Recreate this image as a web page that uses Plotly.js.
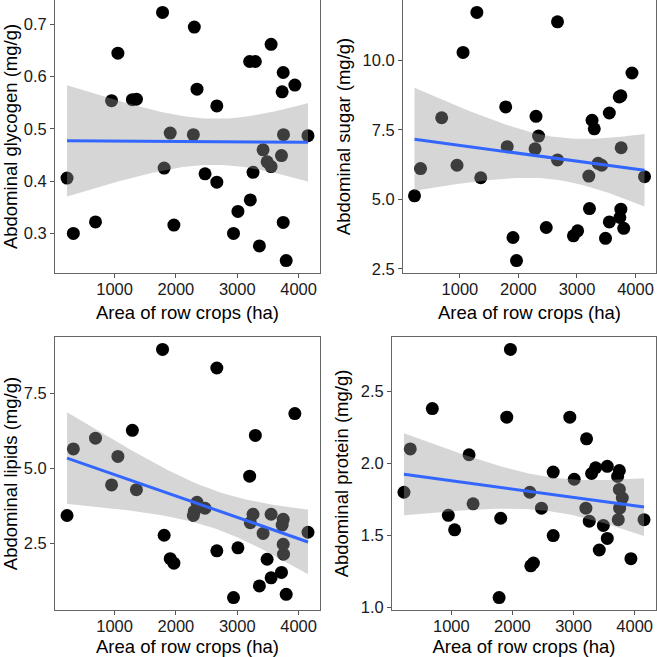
<!DOCTYPE html>
<html>
<head>
<meta charset="utf-8">
<script src="https://cdn.plot.ly/plotly-3.0.1.min.js"></script>
<style>
  html, body { margin: 0; padding: 0; background: #fff; }
  #chart { width: 657px; height: 657px; }
</style>
</head>
<body>
<div id="chart"></div>
<script>
// area of row crops per site (ha), shared by all four panels
const area = [225, 328, 689, 951, 1054, 1290, 1356, 1782, 1808, 1907, 1967, 2284, 2300, 2344, 2475, 2667, 2667, 2939, 3011, 3202, 3213, 3257, 3295, 3361, 3421, 3487, 3552, 3552, 3721, 3732, 3749, 3749, 3754, 3798, 3939, 4153];

const glycogen = [0.406, 0.300, 0.322, 0.554, 0.645, 0.556, 0.557, 0.723, 0.425, 0.492, 0.316, 0.489, 0.695, 0.576, 0.414, 0.544, 0.398, 0.300, 0.342, 0.629, 0.364, 0.417, 0.629, 0.276, 0.460, 0.437, 0.662, 0.428, 0.449, 0.571, 0.608, 0.321, 0.489, 0.248, 0.584, 0.487];
const sugar = [5.13, 6.11, 7.94, 6.23, 10.29, 11.73, 5.78, 8.33, 6.90, 3.63, 2.80, 6.82, 7.99, 7.28, 3.99, 11.39, 6.42, 3.69, 3.87, 5.84, 4.67, 7.85, 7.54, 6.30, 6.23, 3.60, 8.11, 4.19, 8.69, 4.35, 8.73, 4.65, 6.86, 3.96, 9.55, 5.82];
const lipids = [3.42, 5.64, 6.00, 4.44, 5.39, 6.26, 4.28, 8.96, 2.76, 1.98, 1.83, 3.42, 3.56, 3.86, 3.66, 8.34, 2.24, 0.68, 2.34, 4.73, 3.18, 3.46, 6.09, 1.07, 2.82, 1.96, 3.46, 1.34, 1.52, 3.10, 3.29, 2.46, 2.13, 0.79, 6.82, 2.86];
const protein = [1.80, 2.10, 2.38, 1.64, 1.54, 2.06, 1.72, 1.07, 1.62, 2.32, 2.79, 1.80, 1.29, 1.31, 1.69, 1.94, 1.50, 2.32, 1.89, 1.69, 2.17, 1.60, 1.93, 1.97, 1.40, 1.57, 1.98, 1.48, 1.91, 1.61, 1.95, 1.82, 1.69, 1.76, 1.34, 1.61];

const xTicks = [1000, 2000, 3000, 4000];
const yTitles = ['Abdominal glycogen (mg/g)', 'Abdominal sugar (mg/g)', 'Abdominal lipids (mg/g)', 'Abdominal protein (mg/g)'];
const yTickVals = [[0.3, 0.4, 0.5, 0.6, 0.7], [2.5, 5.0, 7.5, 10.0], [2.5, 5.0, 7.5], [1.0, 1.5, 2.0, 2.5]];
const yTickText = [['0.3', '0.4', '0.5', '0.6', '0.7'], ['2.5', '5.0', '7.5', '10.0'], ['2.5', '5.0', '7.5'], ['1.0', '1.5', '2.0', '2.5']];
const xTitle = 'Area of row crops (ha)';

// linear fit with 95% band, like geom_smooth(method = "lm")
function lmBand(x, y, n) {
    const N = x.length;
    const mx = x.reduce((a, b) => a + b, 0) / N;
    const my = y.reduce((a, b) => a + b, 0) / N;
    let sxx = 0, sxy = 0;
    for (let i = 0; i < N; i++) {
        sxx += (x[i] - mx) ** 2;
        sxy += (x[i] - mx) * (y[i] - my);
    }
    const b = sxy / sxx;
    const a = my - b * mx;
    let sse = 0;
    for (let i = 0; i < N; i++) sse += (y[i] - a - b * x[i]) ** 2;
    const s = Math.sqrt(sse / (N - 2));
    const t = 2.0322; // qt(0.975, 34)
    const xmin = Math.min(...x), xmax = Math.max(...x);
    const xs = [], fit = [], lo = [], hi = [];
    for (let k = 0; k < n; k++) {
        const xv = xmin + (xmax - xmin) * k / (n - 1);
        const f = a + b * xv;
        const se = s * Math.sqrt(1 / N + (xv - mx) ** 2 / sxx);
        xs.push(xv); fit.push(f); lo.push(f - t * se); hi.push(f + t * se);
    }
    return { xs, fit, lo, hi };
}

function expand(vals) {
    const lo = Math.min(...vals), hi = Math.max(...vals);
    const pad = (hi - lo) * 0.05;
    return [lo - pad, hi + pad];
}

const series = [glycogen, sugar, lipids, protein];
const xDomains = [[0.0837, 0.4871], [0.6134, 0.9985], [0.0837, 0.4871], [0.5966, 0.9985]];
const yDomains = [[0.5845, 1.0], [0.5845, 1.0], [0.0715, 0.4871], [0.0715, 0.4871]];

const data = [];
const layout = {
    width: 657, height: 657,
    margin: { l: 0, r: 0, t: 0, b: 0 },
    paper_bgcolor: '#fff', plot_bgcolor: '#fff',
    showlegend: false,
    font: { family: 'Liberation Sans, Arial, sans-serif', color: '#1a1a1a' }
};

series.forEach((y, i) => {
    const n = i === 0 ? '' : String(i + 1);
    const xa = 'x' + n, ya = 'y' + n;
    const band = lmBand(area, y, 80);

    data.push({
        x: area, y: y, xaxis: xa, yaxis: ya,
        type: 'scatter', mode: 'markers',
        marker: { color: '#000', size: 13 },
        hoverinfo: 'skip'
    });
    data.push({
        x: band.xs.concat(band.xs.slice().reverse()),
        y: band.hi.concat(band.lo.slice().reverse()),
        xaxis: xa, yaxis: ya,
        type: 'scatter', mode: 'lines', fill: 'toself',
        fillcolor: 'rgba(153,153,153,0.4)', line: { width: 0 },
        hoverinfo: 'skip'
    });
    data.push({
        x: band.xs, y: band.fit, xaxis: xa, yaxis: ya,
        type: 'scatter', mode: 'lines',
        line: { color: '#3366FF', width: 3 },
        hoverinfo: 'skip'
    });

    const axisCommon = {
        showline: true, mirror: true, linecolor: '#666', linewidth: 1,
        showgrid: false, zeroline: false,
        ticks: 'outside', ticklen: 4, tickwidth: 1, tickcolor: '#555',
        tickfont: { size: 16.5, color: '#1a1a1a' }
    };
    layout['xaxis' + n] = Object.assign({}, axisCommon, {
        domain: xDomains[i], anchor: ya,
        range: expand(area),
        tickvals: xTicks,
        ticklabelstandoff: -3,
        title: { text: xTitle, font: { size: 18.5, color: '#000' }, standoff: 9 }
    });
    layout['yaxis' + n] = Object.assign({}, axisCommon, {
        domain: yDomains[i], anchor: xa,
        range: expand(y.concat(band.lo, band.hi)),
        tickvals: yTickVals[i], ticktext: yTickText[i],
        title: { text: yTitles[i], font: { size: 18.5, color: '#000' }, standoff: 7 }
    });
});

Plotly.newPlot('chart', data, layout, { displayModeBar: false, staticPlot: true });
</script>
</body>
</html>
